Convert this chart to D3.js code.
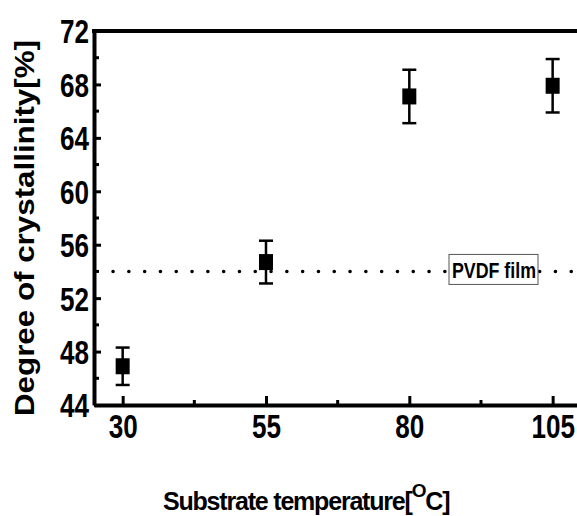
<!DOCTYPE html>
<html>
<head>
<meta charset="utf-8">
<script src="https://cdn.jsdelivr.net/npm/d3@7"></script>
<style>
  body { margin: 0; background: #fff; }
  svg { display: block; }
  .tick text { font-family: 'Liberation Sans', Arial, sans-serif; font-weight: bold; }
</style>
</head>
<body>
<script>
// data
const temps = [30, 55, 80, 105];
const crystallinity = [46.9, 54.7, 67.1, 67.9];
const errors = [1.4, 1.6, 2.0, 2.0];
const filmLevel = 54;
const xTicks = [30, 55, 80, 105];
const yTicks = [44, 48, 52, 56, 60, 64, 68, 72];

const W = 577, H = 516;
const x = d3.scaleLinear().domain([25, 110]).range([94, 94 + 85 * 5.733]);
const y = d3.scaleLinear().domain([44, 72]).range([405, 31]);

const svg = d3.select('body').append('svg')
    .attr('width', W)
    .attr('height', H);

// minor ticks
const xMinor = d3.range(42.5, 110, 25);
const yMinor = d3.range(46, 72, 4);

const xAxis = d3.axisBottom(x).tickValues(xTicks).tickSizeInner(-9).tickSizeOuter(0).tickPadding(16);
const yAxis = d3.axisLeft(y).tickValues(yTicks).tickSizeInner(-7).tickSizeOuter(0).tickPadding(5);

const gx = svg.append('g')
    .attr('transform', 'translate(0,' + y(44) + ')')
    .call(xAxis);
const gy = svg.append('g')
    .attr('transform', 'translate(' + x(25) + ',0)')
    .call(yAxis);

[gx, gy].forEach(function(g) {
    g.select('.domain').attr('stroke-width', 4);
    g.selectAll('.tick line').attr('stroke-width', 3);
    g.selectAll('.tick text')
        .attr('font-size', 33).attr('fill', '#000')
        .attr('textLength', d => String(d).length * 14.5)
        .attr('lengthAdjust', 'spacingAndGlyphs');
});
gx.selectAll('.tick text').attr('dy', '0.5em');
gy.selectAll('.tick text').attr('dy', '0.36em');

gx.selectAll('.minor').data(xMinor).enter().append('line')
    .attr('x1', d => x(d)).attr('x2', d => x(d))
    .attr('y1', 0).attr('y2', -5)
    .attr('stroke', '#000').attr('stroke-width', 3);
gy.selectAll('.minor').data(yMinor).enter().append('line')
    .attr('x1', 0).attr('x2', 5)
    .attr('y1', d => y(d)).attr('y2', d => y(d))
    .attr('stroke', '#000').attr('stroke-width', 3);

// top frame line
svg.append('line')
    .attr('x1', x(25) - 2).attr('x2', W)
    .attr('y1', y(72)).attr('y2', y(72))
    .attr('stroke', '#000').attr('stroke-width', 4);

// PVDF reference line
svg.append('line')
    .attr('x1', x(25) + 19).attr('x2', W)
    .attr('y1', y(filmLevel)).attr('y2', y(filmLevel))
    .attr('stroke', '#000').attr('stroke-width', 3.5)
    .attr('stroke-linecap', 'round')
    .attr('stroke-dasharray', '0.1,15.7');

const boxX = 449, boxW = 89;
svg.append('rect')
    .attr('x', boxX).attr('y', y(filmLevel) - 17)
    .attr('width', boxW).attr('height', 30)
    .attr('fill', '#fff').attr('stroke', '#555').attr('stroke-width', 1);
svg.append('text')
    .attr('x', boxX + 3).attr('y', y(filmLevel) + 7)
    .attr('font-family', "'Liberation Sans', Arial, sans-serif")
    .attr('font-weight', 'bold').attr('font-size', 22)
    .attr('textLength', 84).attr('lengthAdjust', 'spacingAndGlyphs')
    .text('PVDF film');

// error bars
const pts = temps.map((t, i) => ({t: t, v: crystallinity[i], e: errors[i]}));
const eb = svg.append('g').attr('stroke', '#000').attr('stroke-width', 2.5);
eb.selectAll('.v').data(pts).enter().append('line')
    .attr('x1', d => x(d.t)).attr('x2', d => x(d.t))
    .attr('y1', d => y(d.v - d.e)).attr('y2', d => y(d.v + d.e));
eb.selectAll('.top').data(pts).enter().append('line')
    .attr('x1', d => x(d.t) - 7).attr('x2', d => x(d.t) + 7)
    .attr('y1', d => y(d.v + d.e)).attr('y2', d => y(d.v + d.e));
eb.selectAll('.bot').data(pts).enter().append('line')
    .attr('x1', d => x(d.t) - 7).attr('x2', d => x(d.t) + 7)
    .attr('y1', d => y(d.v - d.e)).attr('y2', d => y(d.v - d.e));

svg.selectAll('.pt').data(pts).enter().append('rect')
    .attr('x', d => x(d.t) - 7).attr('y', d => y(d.v) - 8)
    .attr('width', 14).attr('height', 16)
    .attr('fill', '#000');

// axis titles
svg.append('text')
    .attr('transform', 'translate(34,' + 228 + ') rotate(-90)')
    .attr('text-anchor', 'middle')
    .attr('font-family', "'Liberation Sans', Arial, sans-serif")
    .attr('font-weight', 'bold').attr('font-size', 28)
    .attr('textLength', 376).attr('lengthAdjust', 'spacingAndGlyphs')
    .text('Degree of crystallinity[%]');

const xt = svg.append('text')
    .attr('x', 163).attr('y', 510)
    .attr('font-family', "'Liberation Sans', Arial, sans-serif")
    .attr('font-weight', 'bold').attr('font-size', 25)
    .attr('letter-spacing', -1.2);
xt.append('tspan').text('Substrate temperature[');
xt.append('tspan').attr('dy', -13).attr('font-size', 19).text('O');
xt.append('tspan').attr('dy', 13).text('C]');
</script>
</body>
</html>
